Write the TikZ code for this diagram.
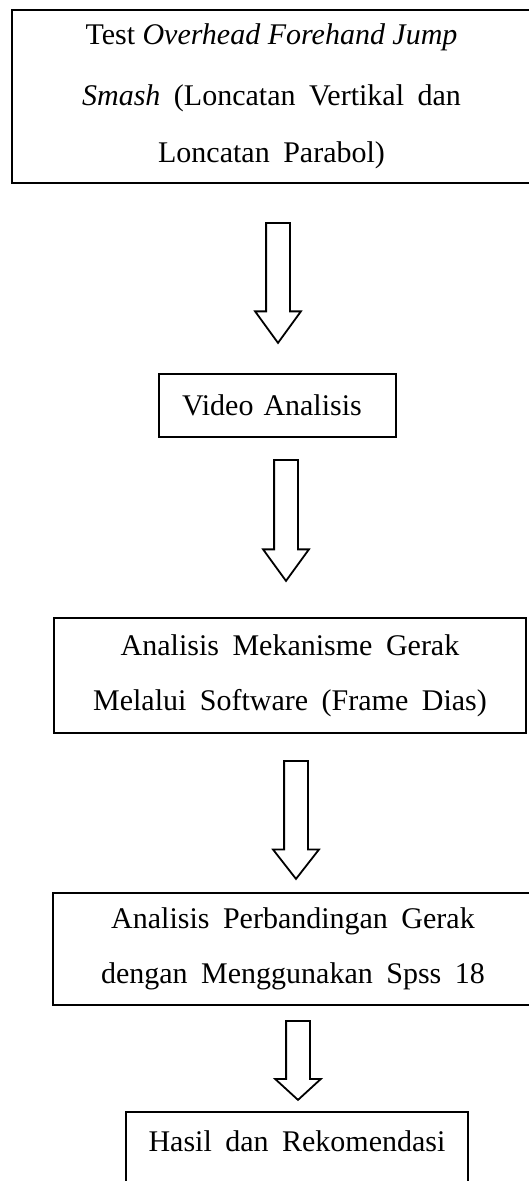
\documentclass[tikz,border=0pt]{standalone}
\usepackage{fontspec}
\setmainfont{Liberation Serif}
\usetikzlibrary{shapes.arrows}

% text of the boxes, wide word spaces as in a justified paragraph
\newcommand{\boxfont}{\fontsize{30}{55}\selectfont\spaceskip=.45em\relax}

\tikzset{
  flowbox/.style={draw=black, line width=2pt, rectangle, inner sep=0pt, align=center, font=\boxfont},
  downarrow/.style={single arrow, draw=black, line width=1.8pt, rotate=-90, anchor=tail,
    inner xsep=0pt, inner ysep=11pt, single arrow head extend=11pt}
}

\begin{document}
\begin{tikzpicture}[x=1pt,y=-1pt]
\useasboundingbox (0,0) rectangle (529,1181);
\clip (0,0) rectangle (529,1181);

\node[flowbox, minimum width=519pt, minimum height=173pt] (test) at (271.5,96.5)
  {{\spaceskip=0pt Test \textit{Overhead Forehand Jump}}\\[6pt]
   \textit{Smash} (Loncatan Vertikal dan\\[2pt]
   Loncatan Parabol)};

\node[downarrow, minimum height=120pt, single arrow tip angle=72] (arr1) at (278,222) {};

\node[flowbox, align=left, text width=191pt, inner xsep=23pt, minimum height=63pt] (video)
  at (277.5,405.5) {Video Analisis};

\node[downarrow, minimum height=121pt, single arrow tip angle=72] (arr2) at (286,459) {};

\node[flowbox, minimum width=472pt, minimum height=115pt] (gerak) at (290,675.5)
  {Analisis Mekanisme Gerak\\ Melalui Software (Frame Dias)};

\node[downarrow, minimum height=118pt, single arrow tip angle=76] (arr3) at (296,760) {};

\node[flowbox, minimum width=480pt, minimum height=112pt] (spss) at (293,949)
  {Analisis Perbandingan Gerak\\ dengan Menggunakan Spss 18};

\node[downarrow, minimum height=79pt, single arrow tip angle=95] (arr4) at (298,1020) {};

% last box runs off the bottom of the page
\node[flowbox, anchor=north, minimum width=342pt, text height=39pt, text depth=60pt] (hasil) at (297,1111)
  {Hasil dan Rekomendasi};

\end{tikzpicture}
\end{document}
